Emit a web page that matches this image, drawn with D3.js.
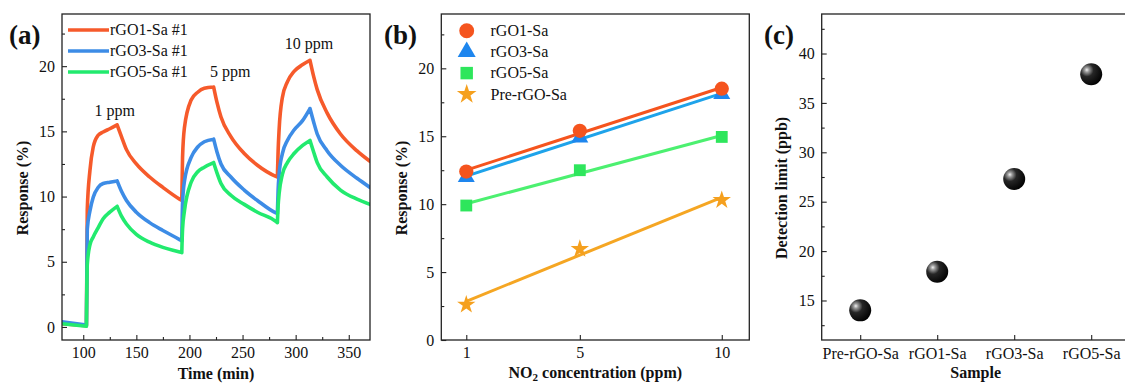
<!DOCTYPE html>
<html><head><meta charset="utf-8">
<script src="https://cdn.jsdelivr.net/npm/d3@7"></script>
<style>
html,body{margin:0;padding:0;background:#fff;}
svg text{font-family:"Liberation Serif","DejaVu Serif",serif !important;fill:#111;}
</style></head>
<body><svg id="c" width="1125" height="383" font-family="Liberation Serif, DejaVu Serif, serif"></svg>
<script>
// ---------- Panel (a) data: response vs time ----------
const timeA = [80,103,103.8,106.3,109.4,114,118.75,125,131.9,136,140.7,150,162.5,175,190.7,192.8,193.5,195.3,201.6,207.8,214,222.8,226,229.7,239,251.6,264,281.3,282.8,283.5,284.4,287.5,292.2,298.5,306.3,313.5,317,320.3,329.7,342.2,357.8,370];
const rGO1A = [0.25,0.1,9.0,12.0,13.8,14.7,14.95,15.2,15.5,14.6,13.6,12.5,11.5,10.7,9.8,9.7,13.0,15.3,17.4,18.0,18.3,18.4,17.2,16.1,14.6,13.3,12.4,11.55,11.5,13.5,15.1,17.6,18.8,19.6,20.1,20.45,19.2,18.2,16.4,14.8,13.5,12.7];
const rGO3A = [0.4,0.15,7.5,8.9,9.95,10.7,11.0,11.1,11.2,10.4,9.7,8.8,8.0,7.4,6.7,6.6,9.5,11.2,13.0,13.8,14.2,14.4,13.4,12.5,11.5,10.5,9.7,8.75,8.7,10.5,11.7,13.3,14.3,15.1,15.8,16.75,15.7,14.8,13.5,12.4,11.4,10.7];
const rGO5A = [0.25,0.05,4.8,6.3,6.9,7.6,8.3,8.8,9.25,8.5,7.9,7.1,6.5,6.1,5.75,5.7,7.5,8.9,11.1,11.9,12.25,12.6,11.8,11.0,10.1,9.4,8.8,8.1,8.0,9.3,10.2,11.7,12.6,13.3,13.9,14.3,13.4,12.6,11.5,10.5,9.8,9.4];
const seriesNamesA = ["rGO1-Sa #1","rGO3-Sa #1","rGO5-Sa #1"];
const annotTextA = ["1 ppm","5 ppm","10 ppm"];
const annotTimeA = [129.7,238.3,312.6];
const annotRespA = [16.2,19.2,21.3];
const xTicksA = [100,150,200,250,300,350];
const yTicksA = [0,5,10,15,20];

// ---------- Panel (b) data: response vs concentration ----------
const concB = [1,5,10];
const rGO1B = [12.4,15.4,18.5];
const rGO3B = [12.0,14.9,18.1];
const rGO5B = [9.9,12.5,14.95];
const preB  = [2.6,6.7,10.3];
const seriesNamesB = ["rGO1-Sa","rGO3-Sa","rGO5-Sa","Pre-rGO-Sa"];
const yTicksB = [0,5,10,15,20];

// ---------- Panel (c) data: detection limit ----------
const samplesC = ["Pre-rGO-Sa","rGO1-Sa","rGO3-Sa","rGO5-Sa"];
const limitC = [14.0,17.9,27.3,37.9];
const yTicksC = [15,20,25,30,35,40];

const svg = d3.select("#c");
const FS = 16;
const FF = "Liberation Serif, DejaVu Serif, serif";

function frame(g, x0, x1, y0, y1){
  g.append("rect").attr("x",x0).attr("y",y0).attr("width",x1-x0).attr("height",y1-y0)
    .attr("fill","none").attr("stroke","#222").attr("stroke-width",1.3);
}
function styleAxis(sel){
  sel.attr("font-family",FF);
  sel.select(".domain").remove();
  sel.selectAll(".tick line").attr("stroke","#222").attr("stroke-width",1.1);
  sel.selectAll(".tick text").attr("font-size",FS).attr("font-family",FF).attr("fill","#111");
}
function yAxes(g, y, x0, major, minor){
  g.append("g").attr("transform",`translate(${x0},0)`)
    .call(d3.axisLeft(y).tickValues(major).tickSize(-5).tickPadding(7)).call(styleAxis);
  g.append("g").attr("transform",`translate(${x0},0)`)
    .call(d3.axisLeft(y).tickValues(minor).tickSize(-3).tickFormat("")).call(styleAxis);
}
function xAxes(g, x, y0, major, minor, fmt, pad){
  const ax = d3.axisBottom(x).tickValues(major).tickSize(-5).tickPadding(pad||7);
  if (fmt) ax.tickFormat(fmt);
  g.append("g").attr("transform",`translate(0,${y0})`).call(ax).call(styleAxis);
  if (minor && minor.length)
    g.append("g").attr("transform",`translate(0,${y0})`)
      .call(d3.axisBottom(x).tickValues(minor).tickSize(-3).tickFormat("")).call(styleAxis);
}
function txt(sel){ return sel.append("text").attr("font-family",FF); }
function panelLabel(t, x){
  txt(svg).attr("x",x).attr("y",44).attr("font-size",27).attr("font-weight","bold").text(t);
}
function yTitle(t, x, cy){
  txt(svg).attr("transform",`translate(${x},${cy}) rotate(-90)`).attr("text-anchor","middle")
    .attr("font-size",FS).attr("font-weight","bold").text(t);
}

// ================= Panel (a) =================
{
  const X0=62, X1=370, Y0=14, Y1=340;
  const x = d3.scaleLinear().domain([80,370]).range([X0,X1]);
  const y = d3.scaleLinear().domain([-1,24]).range([Y1,Y0]);
  const g = svg.append("g");
  svg.append("clipPath").attr("id","clipA").append("rect").attr("x",X0).attr("y",Y0).attr("width",X1-X0).attr("height",Y1-Y0);
  const colors = ["#f65a2b","#3d8ce6","#22ea6e"];
  const data = [rGO1A, rGO3A, rGO5A];
  function pathFor(vals){
    const pts = vals.map((v,i)=>[x(timeA[i]), y(v)]);
    const segs = [];
    let start = 0;
    for (let i=1;i<pts.length-1;i++){
      const d1 = vals[i]-vals[i-1], d2 = vals[i+1]-vals[i];
      if (d1*d2 < 0){ segs.push(pts.slice(start,i+1)); start = i; }
    }
    segs.push(pts.slice(start));
    const ln = d3.line().curve(d3.curveMonotoneX);
    return segs.map(s=>ln(s)).join("");
  }
  [0,1,2].forEach(k=>{
    g.append("path").attr("clip-path","url(#clipA)").attr("d",pathFor(data[k]))
      .attr("fill","none").attr("stroke",colors[k]).attr("stroke-width",3.6)
      .attr("stroke-linejoin","round").attr("stroke-linecap","round");
  });
  yAxes(g, y, X0, yTicksA, [2.5,7.5,12.5,17.5,22.5]);
  xAxes(g, x, Y1, xTicksA, [125,175,225,275,325]);
  frame(g, X0, X1, Y0, Y1);
  seriesNamesA.forEach((n,k)=>{
    const ly = 30 + k*21;
    g.append("line").attr("x1",68).attr("x2",109).attr("y1",ly).attr("y2",ly).attr("stroke",colors[k]).attr("stroke-width",3.6);
    txt(g).attr("x",110).attr("y",ly).attr("dy","0.33em").attr("font-size",FS).text(n);
  });
  annotTextA.forEach((t,i)=>{
    txt(g).attr("x",x(annotTimeA[i])).attr("y",y(annotRespA[i])).attr("text-anchor","middle")
      .attr("font-size",FS).text(t);
  });
  txt(svg).attr("x",(X0+X1)/2).attr("y",379).attr("text-anchor","middle").attr("font-size",FS).attr("font-weight","bold").text("Time (min)");
  yTitle("Response (%)", 28, 188);
  panelLabel("(a)", 9);
}

// ================= Panel (b) =================
{
  const X0=441.3, X1=749.3, Y0=14, Y1=340;
  const x = d3.scaleLinear().domain([0.12,10.97]).range([X0,X1]);
  const y = d3.scaleLinear().domain([0,24]).range([Y1,Y0]);
  const g = svg.append("g");
  const markerColors = ["#f5541e","#1e86ee","#2ee65c","#f5a01e"];
  const lineColors = ["#f5541e","#1ea3ea","#4cf070","#f5a623"];
  const symbols = [d3.symbolCircle, d3.symbolTriangle, d3.symbolSquare, d3.symbolStar];
  const sizes = [160, 125, 140, 105];
  const data = [rGO1B, rGO3B, rGO5B, preB];
  function fit(ys){
    const mx = d3.mean(concB), my = d3.mean(ys);
    let sxy=0, sxx=0;
    concB.forEach((c,i)=>{ sxy += (c-mx)*(ys[i]-my); sxx += (c-mx)*(c-mx); });
    const b = sxy/sxx, a = my - b*mx;
    return [concB[0], concB[concB.length-1]].map(c=>[c, a+b*c]);
  }
  [3,2,1,0].forEach(k=>{
    const f = fit(data[k]);
    g.append("line").attr("x1",x(f[0][0])).attr("y1",y(f[0][1])).attr("x2",x(f[1][0])).attr("y2",y(f[1][1]))
      .attr("stroke",lineColors[k]).attr("stroke-width",3);
  });
  [3,2,1,0].forEach(k=>{
    data[k].forEach((v,i)=>{
      g.append("path").attr("d",d3.symbol(symbols[k],sizes[k])())
        .attr("transform",`translate(${x(concB[i])},${y(v)})`).attr("fill",markerColors[k]);
    });
  });
  yAxes(g, y, X0, yTicksB, [2.5,7.5,12.5,17.5,22.5]);
  xAxes(g, x, Y1, concB, [], d3.format("d"));
  frame(g, X0, X1, Y0, Y1);
  seriesNamesB.forEach((n,k)=>{
    const ly = 30.7 + k*21.2;
    g.append("path").attr("d",d3.symbol(symbols[k],sizes[k]+15)()).attr("transform",`translate(466.7,${ly})`).attr("fill",markerColors[k]);
    txt(g).attr("x",490.5).attr("y",ly).attr("dy","0.33em").attr("font-size",FS).text(n);
  });
  const t = txt(svg).attr("x",(X0+X1)/2).attr("y",378).attr("text-anchor","middle").attr("font-size",FS).attr("font-weight","bold");
  t.append("tspan").text("NO");
  t.append("tspan").attr("font-size",11).attr("dy",3).text("2");
  t.append("tspan").attr("dy",-3).text(" concentration (ppm)");
  yTitle("Response (%)", 407, 188);
  panelLabel("(b)", 384);
}

// ================= Panel (c) =================
{
  const X0=821.7, X1=1129.7, Y0=14, Y1=340;
  const x = d3.scalePoint().domain(samplesC).range([X0,X1]).padding(0.5);
  const y = d3.scaleLinear().domain([11,44]).range([Y1,Y0]);
  const g = svg.append("g");
  const defs = svg.append("defs");
  const rg = defs.append("radialGradient").attr("id","ball").attr("cx","0.32").attr("cy","0.32").attr("r","0.75").attr("fx","0.3").attr("fy","0.3");
  rg.append("stop").attr("offset","0%").attr("stop-color","#f2f2f2");
  rg.append("stop").attr("offset","14%").attr("stop-color","#9a9a9a");
  rg.append("stop").attr("offset","40%").attr("stop-color","#262626");
  rg.append("stop").attr("offset","100%").attr("stop-color","#000");
  limitC.forEach((v,i)=>{
    g.append("circle").attr("cx",x(samplesC[i])).attr("cy",y(v)).attr("r",11).attr("fill","url(#ball)");
  });
  yAxes(g, y, X0, yTicksC, [12.5,17.5,22.5,27.5,32.5,37.5,42.5]);
  xAxes(g, x, Y1, samplesC, [], null, 8);
  frame(g, X0, X1, Y0, Y1);
  txt(svg).attr("x",(X0+X1)/2).attr("y",378).attr("text-anchor","middle").attr("font-size",FS).attr("font-weight","bold").text("Sample");
  yTitle("Detection limit (ppb)", 787, 188);
  panelLabel("(c)", 764);
}
</script></body></html>
